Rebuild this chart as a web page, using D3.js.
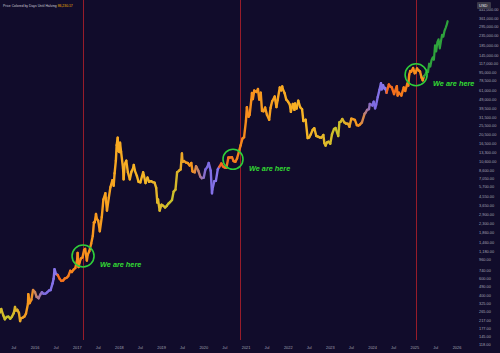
<!DOCTYPE html>
<html><head><meta charset="utf-8">
<script src="https://cdn.jsdelivr.net/npm/d3@7"></script>
<style>html,body{margin:0;padding:0;background:#110c2b;overflow:hidden}svg{display:block}</style>
</head><body><div id="chart"></div>
<script>
const chartTitle = "Price Colored by Days Until Halving";
const lastValueLabel = "86,230.17";
const currency = "USD";

// BTC price (USD)
const btcPrice = [
["2015-03-01",260],["2015-03-15",285],["2015-04-01",245],["2015-04-15",222],["2015-05-01",235],["2015-05-15",237],
["2015-06-01",225],["2015-06-15",236],["2015-07-01",258],["2015-07-12",300],["2015-07-20",275],["2015-08-01",280],["2015-08-15",260],
["2015-08-25",212],["2015-09-01",228],["2015-09-15",230],["2015-10-01",237],["2015-10-15",255],["2015-11-01",325],
["2015-11-04",410],["2015-11-15",330],["2015-12-01",360],["2015-12-15",455],["2016-01-01",432],["2016-01-15",385],
["2016-02-01",372],["2016-02-15",405],["2016-03-01",432],["2016-03-15",415],["2016-04-01",417],["2016-04-15",430],
["2016-05-01",450],["2016-05-15",455],["2016-06-01",535],["2016-06-10",600],["2016-06-18",760],["2016-07-01",675],["2016-07-15",660],
["2016-08-01",600],["2016-08-15",570],["2016-09-01",575],["2016-09-15",605],["2016-10-01",615],["2016-10-15",640],
["2016-11-01",730],["2016-11-15",710],["2016-12-01",755],["2016-12-15",780],["2016-12-31",960],["2017-01-04",1130],
["2017-01-12",800],["2017-01-20",890],["2017-02-01",985],["2017-02-15",1010],["2017-03-01",1220],["2017-03-10",1250],
["2017-03-25",940],["2017-04-01",1080],["2017-04-15",1180],["2017-05-01",1420],["2017-05-15",1720],["2017-05-25",2400],
["2017-06-01",2400],["2017-06-12",2950],["2017-06-20",2600],["2017-07-01",2500],["2017-07-15",1930],["2017-08-01",2730],
["2017-08-15",4200],["2017-09-01",4900],["2017-09-15",3200],["2017-10-01",4400],["2017-10-15",5700],["2017-11-01",6750],
["2017-11-12",5900],["2017-11-20",8000],["2017-12-01",10900],["2017-12-08",16000],["2017-12-17",19200],["2017-12-22",13800],
["2018-01-01",13500],["2018-01-06",17000],["2018-01-15",13600],["2018-02-01",9100],["2018-02-06",6900],["2018-02-15",10000],
["2018-03-01",10900],["2018-03-15",8200],["2018-04-01",6900],["2018-04-15",8300],["2018-05-01",9200],["2018-05-05",9800],
["2018-05-15",8500],["2018-06-01",7500],["2018-06-15",6500],["2018-07-01",6400],["2018-07-25",8200],["2018-08-01",7600],
["2018-08-15",6300],["2018-09-01",7200],["2018-09-15",6500],["2018-10-01",6600],["2018-10-15",6450],["2018-11-01",6350],
["2018-11-15",5600],["2018-11-25",3900],["2018-12-01",4200],["2018-12-15",3200],["2018-12-31",3700],["2019-01-15",3600],
["2019-02-01",3450],["2019-02-15",3600],["2019-03-01",3800],["2019-03-15",3950],["2019-04-01",4150],["2019-04-15",5100],
["2019-05-01",5350],["2019-05-15",8200],["2019-06-01",8550],["2019-06-15",8800],["2019-06-26",13000],["2019-07-01",10600],
["2019-07-15",10800],["2019-08-01",10400],["2019-08-15",10300],["2019-09-01",9700],["2019-09-15",10300],["2019-09-25",8400],
["2019-10-01",8300],["2019-10-15",8200],["2019-10-26",9500],["2019-11-01",9200],["2019-11-15",8500],["2019-12-01",7400],
["2019-12-15",7100],["2020-01-01",7200],["2020-01-15",8800],["2020-02-01",9350],["2020-02-13",10300],["2020-03-01",8550],
["2020-03-12",4900],["2020-03-15",5350],["2020-04-01",6600],["2020-04-15",6650],["2020-05-01",8800],["2020-05-15",9400],
["2020-06-01",10200],["2020-06-15",9450],["2020-07-01",9200],["2020-07-15",9150],["2020-08-01",11800],["2020-08-15",11800],
["2020-09-01",11900],["2020-09-15",10800],["2020-10-01",10600],["2020-10-15",11500],["2020-11-01",13700],["2020-11-15",15900],
["2020-12-01",18800],["2020-12-15",19400],["2020-12-31",29000],["2021-01-08",40500],["2021-01-22",32000],["2021-02-01",33500],
["2021-02-15",48000],["2021-02-21",57500],["2021-03-01",49500],["2021-03-13",61000],["2021-04-01",59000],["2021-04-14",63500],
["2021-04-25",49000],["2021-05-08",58000],["2021-05-19",37000],["2021-06-01",36700],["2021-06-15",40200],["2021-07-01",33600],
["2021-07-20",29800],["2021-08-01",39900],["2021-08-15",47000],["2021-09-06",52700],["2021-09-21",40600],["2021-10-01",48100],
["2021-10-20",66000],["2021-11-01",61300],["2021-11-10",67500],["2021-11-15",63600],["2021-12-01",57200],["2021-12-15",48900],
["2021-12-31",46300],["2022-01-15",43100],["2022-01-24",36200],["2022-02-10",44000],["2022-02-24",38000],["2022-03-01",44400],
["2022-03-15",39300],["2022-03-29",47500],["2022-04-15",40500],["2022-05-01",38500],["2022-05-12",28900],["2022-06-01",29800],
["2022-06-18",19000],["2022-07-01",19300],["2022-07-15",20800],["2022-08-01",23300],["2022-08-15",24200],["2022-09-01",20000],
["2022-09-15",19700],["2022-10-01",19300],["2022-10-15",19200],["2022-11-01",20500],["2022-11-10",16800],["2022-11-21",15800],
["2022-12-01",17000],["2022-12-15",17400],["2022-12-31",16550],["2023-01-15",20900],["2023-02-01",23700],["2023-02-15",24300],
["2023-03-10",20000],["2023-03-20",28000],["2023-04-01",28500],["2023-04-14",30400],["2023-05-01",28000],["2023-05-15",27200],
["2023-06-01",27000],["2023-06-15",25100],["2023-07-01",30600],["2023-07-15",30300],["2023-08-01",29700],["2023-08-18",26100],
["2023-09-01",25900],["2023-09-15",26600],["2023-10-01",27900],["2023-10-24",34500],["2023-11-01",35400],["2023-11-15",37900],
["2023-12-01",38700],["2023-12-08",44000],["2023-12-31",42300],["2024-01-11",46500],["2024-01-23",39500],["2024-02-01",43000],
["2024-02-15",52000],["2024-03-01",62400],["2024-03-14",73100],["2024-03-20",63000],["2024-04-01",69600],["2024-04-13",64000],
["2024-04-20",64900],["2024-05-01",57800],["2024-05-21",71000],["2024-06-01",67700],["2024-06-15",66200],["2024-07-05",56000],
["2024-07-29",68000],["2024-08-05",54000],["2024-08-15",58000],["2024-09-06",54000],["2024-09-27",66000],["2024-10-10",60500],
["2024-10-29",72700],["2024-11-05",69000],["2024-11-13",90000],["2024-11-22",98500],["2024-12-01",97000],["2024-12-17",106000],
["2024-12-31",93500],["2025-01-08",95000],["2025-01-20",105000],["2025-02-01",100600],["2025-02-15",97500],["2025-02-28",84000],
["2025-03-10",78500],["2025-03-20",86000]
];
// green projected path
const projection = [
["2025-03-20",86000],["2025-04-05",92000],["2025-04-15",100000],["2025-04-25",96000],["2025-05-05",118000],["2025-05-15",110000],
["2025-05-25",128000],["2025-06-05",138000],["2025-06-15",130000],["2025-06-25",185000],["2025-07-05",160000],["2025-07-15",200000],
["2025-07-25",215000],["2025-08-05",172000],["2025-08-15",205000],["2025-08-25",240000],["2025-09-05",230000],["2025-09-15",265000],
["2025-09-25",285000],["2025-10-05",310000],["2025-10-12",335000]
];
const halvings = ["2016-07-09","2020-05-11","2024-04-20","2028-04-15"];
const markerDates = ["2017-02-20","2020-11-10","2025-01-10"];
const circleDates = ["2017-02-20","2020-09-10","2025-01-12"];
const circlePrices = [1050, 11300, 90000];
const annotationText = "We are here";
const yTicks = [118,145,177,217,265,325,400,490,600,740,960,1180,1460,1860,2300,2900,3650,4550,5700,7050,8600,10600,13300,16500,20500,25500,31500,39500,49000,61000,78500,95000,117000,145000,185000,235000,295000,361000,441000];
const xTickDates = ["2015-07-01","2016-01-01","2016-07-01","2017-01-01","2017-07-01","2018-01-01","2018-07-01","2019-01-01","2019-07-01","2020-01-01","2020-07-01","2021-01-01","2021-07-01","2022-01-01","2022-07-01","2023-01-01","2023-07-01","2024-01-01","2024-07-01","2025-01-01","2025-07-01","2026-01-01"];

const W = 500, H = 353;
const parse = d3.utcParse("%Y-%m-%d");
const svg = d3.select("#chart").append("svg").attr("width", W).attr("height", H);
svg.append("rect").attr("width", W).attr("height", H).attr("fill", "#110c2b");

const t2016 = parse("2016-01-01"), t2026 = parse("2026-01-01");
const x = d3.scaleUtc().domain([t2016, t2026]).range([35, 457]);
const slope = 40.72;
const y = d3.scaleLog().domain([118, 441000]).range([345, 345 - slope * Math.log(441000 / 118)]);

// red marker lines
svg.append("g").selectAll("line").data(markerDates).join("line")
  .attr("x1", d => Math.round(x(parse(d))) + 0.5).attr("x2", d => Math.round(x(parse(d))) + 0.5)
  .attr("y1", 0).attr("y2", 340).attr("stroke", "#971c2a").attr("stroke-width", 1);

// colour by days until halving
const hv = halvings.map(parse);
function daysUntil(t) {
  const n = hv.find(h => h >= t) || hv[hv.length - 1];
  return (n - t) / 864e5;
}
const color = d3.scaleLinear()
  .domain([0, 120, 230, 300, 420, 560, 700, 1000, 1250, 1460])
  .range(["#8a78ee", "#7b69e0", "#f7931a", "#f2a126", "#c6c42c", "#e9b52a", "#f7b526", "#f7a020", "#f7881c", "#f4621e"])
  .clamp(true);

const pts = btcPrice.map(([d, v]) => ({t: parse(d), v}));
const segs = d3.pairs(pts);
svg.append("g").selectAll("line").data(segs).join("line")
  .attr("x1", d => x(d[0].t)).attr("y1", d => y(d[0].v))
  .attr("x2", d => x(d[1].t)).attr("y2", d => y(d[1].v))
  .attr("stroke", d => color(daysUntil(d[0].t)))
  .attr("stroke-width", 2.4).attr("stroke-linecap", "round");

const ppts = projection.map(([d, v]) => ({t: parse(d), v}));
svg.append("path").datum(ppts)
  .attr("d", d3.line().x(d => x(d.t)).y(d => y(d.v)))
  .attr("fill", "none").attr("stroke", "#2ea33c").attr("stroke-width", 2.2)
  .attr("stroke-linejoin", "round").attr("stroke-linecap", "round");

// circles and labels
const ann = circleDates.map((d, i) => ({t: parse(d), v: circlePrices[i], r: i === 1 ? 10 : 11}));
svg.append("g").selectAll("circle").data(ann).join("circle")
  .attr("cx", d => x(d.t)).attr("cy", d => y(d.v)).attr("r", d => d.r)
  .attr("fill", "none").attr("stroke", "#2fcf3a").attr("stroke-width", 1.6);
svg.append("g").selectAll("text").data(ann).join("text")
  .attr("x", d => x(d.t) + d.r + 6).attr("y", d => y(d.v) + 11.5)
  .attr("fill", "#33dd33").attr("font-family", "Liberation Sans, Arial, sans-serif")
  .attr("font-weight", "bold").attr("font-style", "italic").attr("font-size", 7.3)
  .text(annotationText);

// right axis labels
const fmt = d3.format(",.2f");
svg.append("g").selectAll("text").data(yTicks).join("text")
  .attr("x", 479).attr("y", d => y(d)).attr("dy", "0.35em")
  .attr("fill", "#a3a3b3").attr("font-family", "Liberation Sans, Arial, sans-serif").attr("font-size", 3.9)
  .text(d => fmt(d));
svg.append("rect").attr("x", 477).attr("y", 2).attr("width", 14).attr("height", 7).attr("rx", 1).attr("fill", "#3a3848");
svg.append("text").attr("x", 479).attr("y", 7.2).attr("fill", "#e8e8f0")
  .attr("font-family", "Liberation Sans, Arial, sans-serif").attr("font-size", 4).text(currency);

// bottom axis labels
svg.append("g").selectAll("text").data(xTickDates.map(parse)).join("text")
  .attr("x", d => x(d)).attr("y", 348.5).attr("text-anchor", "middle")
  .attr("fill", "#a3a3b3").attr("font-family", "Liberation Sans, Arial, sans-serif").attr("font-size", 3.9)
  .text(d => d.getUTCMonth() === 0 ? d.getUTCFullYear() : "Jul");

// title
const title = svg.append("text").attr("x", 3).attr("y", 7)
  .attr("font-family", "Liberation Sans, Arial, sans-serif").attr("font-size", 3.4);
title.append("tspan").attr("fill", "#c8c8d4").text(chartTitle + " ");
title.append("tspan").attr("fill", "#f5b400").text(lastValueLabel);
</script></body></html>
